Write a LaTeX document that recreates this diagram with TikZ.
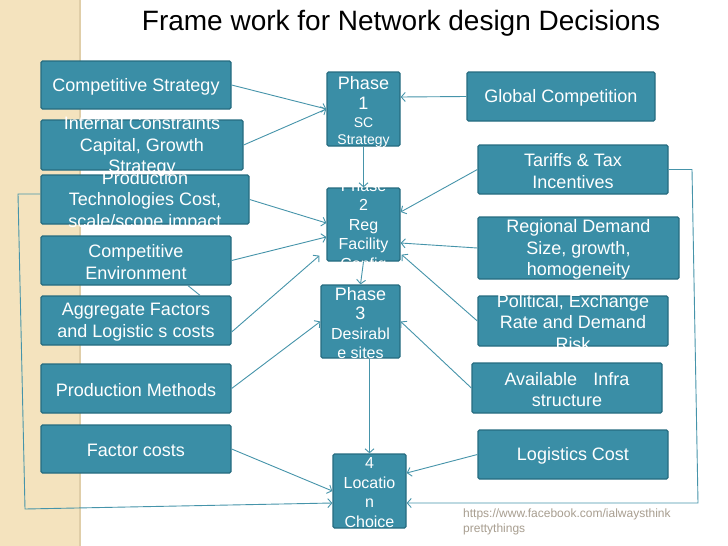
\documentclass[tikz,border=0pt]{standalone}
\usepackage{fontspec}
\setmainfont{Liberation Sans}
\usetikzlibrary{arrows.meta,calc}
\definecolor{boxfill}{RGB}{58,142,166}
\definecolor{boxedge}{RGB}{38,108,128}
\definecolor{conn}{RGB}{70,148,170}
\definecolor{stripe}{RGB}{244,227,190}
\definecolor{stripeedge}{RGB}{224,206,168}
\definecolor{foot}{RGB}{168,158,144}
\begin{document}
\begin{tikzpicture}[x=1pt,y=-1pt,
  box/.style={draw=boxedge, fill=boxfill, line width=1.3pt, rounded corners=1.5pt, inner sep=0pt},
  txt/.style={text=white, align=center, inner sep=0pt, yshift=-1.5pt, font=\fontsize{18}{21.6}\selectfont},
  ptxt/.style={text=white, align=center, inner sep=0pt, yshift=-1.5pt, font=\fontsize{16}{19.5}\selectfont},
  arr/.style={draw=conn, line width=0.9pt, -{Straight Barb[length=4pt,width=9pt]}},
  link/.style={draw=conn, line width=0.9pt}]
\fill[white] (0,0) rectangle (728,546);
\useasboundingbox (0,0) rectangle (728,546);
\fill[stripe] (0,0) rectangle (80,546);
\draw[stripeedge, line width=1.5pt] (80,0) -- (80,546);

% title
\node[font=\fontsize{28}{32}\selectfont, inner sep=0pt] (title) at (401,23.5) {Frame work for Network design Decisions};

% left boxes
\node[box, minimum width=190pt, minimum height=48pt] (cs) at (136,85) {};
\node[box, minimum width=202pt, minimum height=50pt] (ic) at (142,145) {};
\node[box, minimum width=208pt, minimum height=49pt] (pt) at (145,199.5) {};
\node[box, minimum width=190pt, minimum height=49pt] (ce) at (136,260.5) {};
\node[box, minimum width=190pt, minimum height=49pt] (ag) at (136,320.5) {};
\node[box, minimum width=190pt, minimum height=49pt] (pm) at (136,388.5) {};
\node[box, minimum width=190pt, minimum height=48pt] (fc) at (136,449) {};

% phase boxes
\node[box, minimum width=73pt, minimum height=74pt] (p1) at (363.5,109) {};
\node[box, minimum width=73pt, minimum height=73pt] (p2) at (363.5,224.5) {};
\node[box, minimum width=79pt, minimum height=73pt] (p3) at (360.5,321.5) {};
\node[box, minimum width=73pt, minimum height=74pt] (loc) at (369.5,491) {};

% right boxes
\node[box, minimum width=188pt, minimum height=49pt] (gc) at (561,96.5) {};
\node[box, minimum width=190pt, minimum height=49pt] (tt) at (573,169.5) {};
\node[box, minimum width=201pt, minimum height=62pt] (rd) at (578.5,248) {};
\node[box, minimum width=190pt, minimum height=50pt] (pol) at (573,321) {};
\node[box, minimum width=190pt, minimum height=50pt] (ai) at (567,388) {};
\node[box, minimum width=190pt, minimum height=49pt] (lc) at (573,454.5) {};

% texts
\node[txt] (cst) at (cs) {Competitive Strategy};
\node[txt] (ict) at (ic) {Internal Constraints\\Capital, Growth\\Strategy};
\node[txt] (ptt) at (pt) {Production\\Technologies Cost,\\scale/scope impact};
\node[txt] (cet) at (ce) {Competitive\\Environment};
\node[txt] (agt) at (ag) {Aggregate Factors\\and Logistic s costs};
\node[txt] (pmt) at (pm) {Production Methods};
\node[txt] (fct) at (fc) {Factor costs};
\node[txt, yshift=-1pt, font=\fontsize{14}{17}\selectfont] (p1t) at (p1) {{\fontsize{18}{20}\selectfont Phase}\\[3pt]{\fontsize{18}{20}\selectfont 1}\\[1pt]SC\\Strategy};
\node[ptxt] (p2t) at (p2) {Phase\\2\\Reg\\Facility\\Config};
\node[ptxt] (p3t) at (p3) {{\fontsize{18}{20}\selectfont Phase}\\{\fontsize{18}{20}\selectfont 3}\\Desirabl\\e sites};
\node[ptxt] (loct) at (loc) {4\\Locatio\\n\\Choice};
\node[txt] (gct) at (gc) {Global Competition};
\node[txt] (ttt) at (tt) {Tariffs \& Tax\\Incentives};
\node[txt] (rdt) at (rd) {Regional Demand\\Size, growth,\\homogeneity};
\node[txt] (polt) at (pol) {Political, Exchange\\Rate and Demand\\Risk};
\node[txt] (ait) at (ai) {Available\hspace{0.9em}Infra\\structure};
\node[txt] (lct) at (lc) {Logistics Cost};

% footer
\node[anchor=north west, align=left, text=foot, font=\fontsize{12}{14.5}\selectfont, inner sep=0pt] (foot) at (463,509) {https://www.facebook.com/ialwaysthink\\prettythings};

% loop corners
\coordinate (ll1) at (18,194);
\coordinate (ll2) at (25,509);
\coordinate (rl1) at (692,169.5);
\coordinate (rl2) at (698,503);

% connectors
\draw[arr] (cs.east) -- (p1.west);
\draw[arr] (ic.east) -- (p1.west);
\draw[arr] (gc.west) -- ([yshift=12pt]p1.east);
\draw[arr] (p1.south) -- (p2.north);
\draw[arr] (pt.east) -- ([yshift=1.5pt]p2.west);
\draw[arr] (ce.east) -- ([yshift=-12.5pt]p2.west);
\draw[arr] ([yshift=-11.5pt]ag.east) -- ([xshift=-7pt,yshift=6pt]p2.south west);
\draw[arr] (tt.west) -- ([yshift=12.5pt]p2.east);
\draw[arr] (rd.west) -- ([yshift=-18.5pt]p2.east);
\draw[arr] (pol.west) -- ([xshift=1pt,yshift=7pt]p2.south east);
\draw[arr] (p2.south) -- (p3.north);
\draw[arr] (pm.east) -- (p3.west);
\draw[arr] (ai.west) -- (p3.east);
\draw[arr] (p3.south -| loc.north) -- (loc.north);
\draw[arr] (fc.east) -- (loc.west);
\draw[arr] (lc.west) -- ([yshift=18pt]loc.east);
\draw[arr] ([yshift=5.5pt]pt.west) -- (ll1) -- (ll2) -- ([yshift=-12pt]loc.west);
\draw[arr] (tt.east) -- (rl1) -- (rl2) -- ([yshift=-12pt]loc.east);
\draw[link] ([xshift=52pt]ce.south) -- ([xshift=64pt]ag.north);
\end{tikzpicture}
\end{document}
